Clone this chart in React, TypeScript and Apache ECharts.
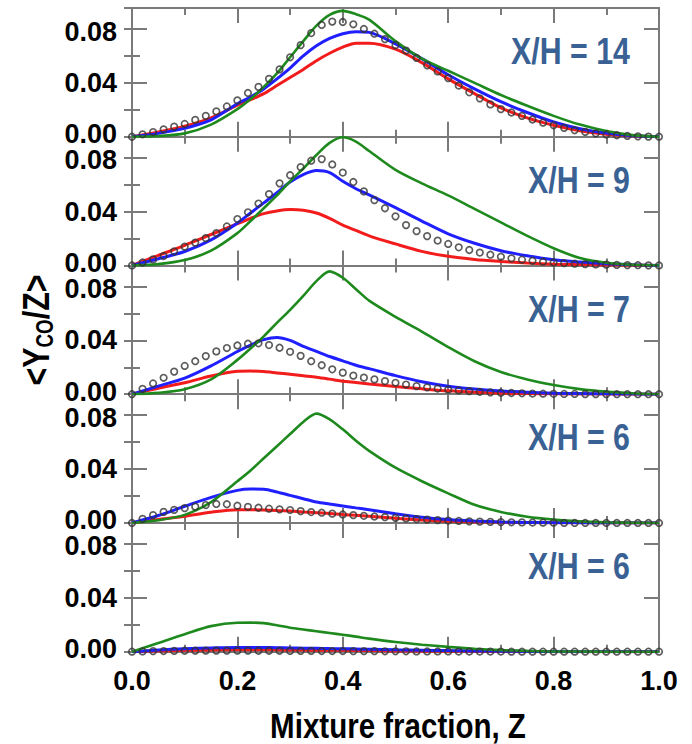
import React, { useEffect, useRef } from "react";
import * as echarts from "echarts";

const FONT = '"Liberation Sans", Arial, Helvetica, sans-serif';
const AX = "#7a7a7a";
const TITLE_COLOR = "#3a6194";
const RED = "#f21c1c";
const BLUE = "#1f1fff";
const GREEN = "#1e8a1e";
const DOT = "#333333";
const NARROW = 0.82;

const YMAX = 0.0956;

// x positions of the model curves
const zLine = [0, 0.05, 0.1, 0.15, 0.2, 0.225, 0.25, 0.275, 0.3, 0.325, 0.35, 0.375, 0.4, 0.425, 0.45, 0.5, 0.55, 0.6, 0.65, 0.7, 0.75, 0.8, 0.85, 0.9, 0.95, 1];
// x positions of the measurement circles
const zDots = [0, 0.02, 0.04, 0.06, 0.08, 0.1, 0.12, 0.14, 0.16, 0.18, 0.2, 0.22, 0.24, 0.26, 0.28, 0.3, 0.32, 0.34, 0.36, 0.38, 0.4, 0.42, 0.44, 0.46, 0.48, 0.5, 0.52, 0.54, 0.56, 0.58, 0.6, 0.62, 0.64, 0.66, 0.68, 0.7, 0.72, 0.74, 0.76, 0.78, 0.8, 0.82, 0.84, 0.86, 0.88, 0.9, 0.92, 0.94, 0.96, 0.98, 1];

const panelLabels = ["X/H = 14", "X/H = 9", "X/H = 7", "X/H = 6", "X/H = 6"];

// X/H = 14
const green14 = [0, 0.0005, 0.0025, 0.009, 0.0205, 0.028, 0.037, 0.047, 0.059, 0.071, 0.0825, 0.0905, 0.0935, 0.091, 0.087, 0.071, 0.058, 0.049, 0.04, 0.031, 0.023, 0.0155, 0.009, 0.0042, 0.0012, 0];
const blue14 = [0, 0.0025, 0.0062, 0.0125, 0.0245, 0.0295, 0.0355, 0.043, 0.051, 0.06, 0.0675, 0.073, 0.0765, 0.078, 0.0775, 0.069, 0.058, 0.046, 0.0355, 0.026, 0.018, 0.011, 0.006, 0.0027, 0.0008, 0];
const red14 = [0, 0.0035, 0.0078, 0.014, 0.0235, 0.0275, 0.032, 0.038, 0.044, 0.05, 0.0565, 0.062, 0.0665, 0.0695, 0.0695, 0.065, 0.055, 0.043, 0.032, 0.0215, 0.014, 0.0085, 0.0045, 0.0018, 0.0005, 0];
const dots14 = [0, 0.0018, 0.0035, 0.0055, 0.0075, 0.0095, 0.0125, 0.0155, 0.0188, 0.0225, 0.027, 0.0325, 0.037, 0.043, 0.05, 0.059, 0.068, 0.077, 0.083, 0.0855, 0.0852, 0.0835, 0.08, 0.0765, 0.0725, 0.068, 0.064, 0.0585, 0.053, 0.0485, 0.0435, 0.038, 0.033, 0.0285, 0.024, 0.0205, 0.018, 0.0155, 0.0128, 0.0105, 0.0085, 0.0066, 0.0048, 0.0036, 0.0025, 0.0017, 0.0011, 0.0006, 0.0003, 0.0001, 0];

// X/H = 9
const green9 = [0, 0.001, 0.004, 0.011, 0.024, 0.033, 0.0425, 0.052, 0.0625, 0.072, 0.082, 0.091, 0.0952, 0.092, 0.085, 0.071, 0.061, 0.052, 0.042, 0.032, 0.022, 0.0128, 0.0055, 0.002, 0.0005, 0];
const blue9 = [0, 0.005, 0.0104, 0.019, 0.0315, 0.039, 0.0465, 0.054, 0.062, 0.0675, 0.0705, 0.069, 0.0625, 0.057, 0.0525, 0.043, 0.033, 0.0235, 0.0165, 0.011, 0.0072, 0.0042, 0.0025, 0.0013, 0.0005, 0];
const red9 = [0, 0.0075, 0.015, 0.023, 0.031, 0.035, 0.0385, 0.0405, 0.0415, 0.041, 0.039, 0.035, 0.03, 0.026, 0.022, 0.016, 0.0105, 0.0068, 0.0045, 0.003, 0.0018, 0.001, 0.0007, 0.0004, 0.0002, 0];
const dots9 = [0, 0.0022, 0.0045, 0.007, 0.0105, 0.014, 0.017, 0.0203, 0.024, 0.029, 0.0345, 0.0395, 0.046, 0.053, 0.061, 0.067, 0.073, 0.0778, 0.079, 0.075, 0.069, 0.062, 0.055, 0.0485, 0.0425, 0.0365, 0.03, 0.0255, 0.0218, 0.0185, 0.016, 0.0135, 0.0115, 0.0096, 0.008, 0.0065, 0.0053, 0.0043, 0.0035, 0.0028, 0.0022, 0.0017, 0.0013, 0.001, 0.0008, 0.0006, 0.0004, 0.0003, 0.0002, 0.0001, 0];

// X/H = 7
const green7 = [0, 0.001, 0.0037, 0.011, 0.0255, 0.034, 0.043, 0.053, 0.0626, 0.073, 0.084, 0.0912, 0.0865, 0.078, 0.0695, 0.0575, 0.0465, 0.035, 0.0245, 0.0165, 0.011, 0.0068, 0.0038, 0.0019, 0.0007, 0];
const blue7 = [0, 0.006, 0.0119, 0.021, 0.0317, 0.0365, 0.0405, 0.0422, 0.04, 0.0355, 0.0318, 0.028, 0.0248, 0.0215, 0.019, 0.0138, 0.0093, 0.006, 0.0038, 0.0024, 0.0015, 0.0008, 0.0005, 0.0003, 0.0001, 0];
const red7 = [0, 0.0045, 0.0085, 0.0135, 0.017, 0.0172, 0.0168, 0.0158, 0.0148, 0.0137, 0.0126, 0.0112, 0.0097, 0.0087, 0.0076, 0.0057, 0.004, 0.0025, 0.0015, 0.0008, 0.0005, 0.0003, 0.0002, 0.0001, 0, 0];
const dots7 = [0, 0.004, 0.008, 0.0122, 0.0168, 0.021, 0.0245, 0.0283, 0.0318, 0.0343, 0.0362, 0.0375, 0.0378, 0.0365, 0.0345, 0.0315, 0.0285, 0.0245, 0.0215, 0.0185, 0.016, 0.0138, 0.0123, 0.011, 0.0097, 0.0085, 0.0072, 0.006, 0.0051, 0.0042, 0.0034, 0.0028, 0.0023, 0.0018, 0.0014, 0.0011, 0.0009, 0.0007, 0.0005, 0.0004, 0.0003, 0.0002, 0.0002, 0.0001, 0.0001, 0, 0, 0, 0, 0, 0];

// X/H = 6 (upper)
const green6a = [0, 0.002, 0.006, 0.0155, 0.031, 0.039, 0.048, 0.057, 0.066, 0.075, 0.0812, 0.077, 0.0695, 0.061, 0.0535, 0.041, 0.031, 0.022, 0.0135, 0.0082, 0.0046, 0.0025, 0.0012, 0.0005, 0.0001, 0];
const blue6a = [0, 0.0055, 0.0124, 0.019, 0.0242, 0.0252, 0.025, 0.023, 0.0205, 0.018, 0.0155, 0.014, 0.0126, 0.0112, 0.0098, 0.0068, 0.0042, 0.0025, 0.0014, 0.0007, 0.0004, 0.0002, 0.0001, 0, 0, 0];
const red6a = [0, 0.0025, 0.005, 0.008, 0.0098, 0.0098, 0.0096, 0.0092, 0.0088, 0.0082, 0.0076, 0.007, 0.0063, 0.0057, 0.005, 0.0035, 0.0022, 0.0013, 0.0008, 0.0005, 0.0003, 0.0002, 0.0001, 0, 0, 0];
const dots6a = [0, 0.003, 0.0058, 0.0082, 0.0097, 0.011, 0.0121, 0.0133, 0.0141, 0.0139, 0.0128, 0.012, 0.0113, 0.0106, 0.0101, 0.0096, 0.0088, 0.0081, 0.0076, 0.0069, 0.0063, 0.0058, 0.0053, 0.0048, 0.0043, 0.0038, 0.0033, 0.0029, 0.0025, 0.0021, 0.0018, 0.0015, 0.0012, 0.001, 0.0008, 0.0006, 0.0005, 0.0004, 0.0003, 0.0002, 0.0002, 0.0001, 0, 0, 0, 0, 0, 0, 0, 0, 0];

// X/H = 6 (lower)
const green6b = [0, 0.0065, 0.013, 0.019, 0.0215, 0.0216, 0.0212, 0.0196, 0.0178, 0.0165, 0.0152, 0.0139, 0.0126, 0.0112, 0.0097, 0.0072, 0.0052, 0.0036, 0.0022, 0.0012, 0.0006, 0.0002, 0.0001, 0, 0, 0];
const blue6b = [0, 0.0012, 0.0022, 0.0028, 0.0032, 0.0032, 0.0031, 0.003, 0.0028, 0.0026, 0.0025, 0.0023, 0.0022, 0.002, 0.0018, 0.0014, 0.0011, 0.0008, 0.0006, 0.0004, 0.0002, 0.0001, 0, 0, 0, 0];
const red6b = [0, 0.0005, 0.001, 0.0013, 0.0015, 0.0015, 0.0015, 0.0014, 0.0013, 0.0012, 0.0011, 0.0011, 0.001, 0.0009, 0.0008, 0.0006, 0.0004, 0.0003, 0.0002, 0.0001, 0, 0, 0, 0, 0, 0];
const dots6b = [0, 0.0002, 0.0004, 0.0005, 0.0006, 0.0007, 0.0007, 0.0008, 0.0008, 0.0008, 0.0008, 0.0008, 0.0007, 0.0007, 0.0007, 0.0006, 0.0006, 0.0006, 0.0005, 0.0005, 0.0005, 0.0004, 0.0004, 0.0004, 0.0003, 0.0003, 0.0003, 0.0002, 0.0002, 0.0002, 0.0002, 0.0001, 0.0001, 0.0001, 0.0001, 0.0001, 0, 0, 0, 0, 0, 0, 0, 0, 0, 0, 0, 0, 0, 0, 0];

const panelData = [
  { dots: dots14, red: red14, blue: blue14, green: green14 },
  { dots: dots9, red: red9, blue: blue9, green: green9 },
  { dots: dots7, red: red7, blue: blue7, green: green7 },
  { dots: dots6a, red: red6a, blue: blue6a, green: green6a },
  { dots: dots6b, red: red6b, blue: blue6b, green: green6b },
];

const PLOT_TOP = 8;
const PANEL_H = 128.74;
const LEFT = 132;
const RIGHT = 33;

function buildOption() {
  const grid: any[] = [];
  const xAxis: any[] = [];
  const yAxis: any[] = [];
  const series: any[] = [];
  const graphic: any[] = [];
  const n = panelData.length;

  const tickStyle = { color: AX, width: 2 };
  const labelFont = {
    fontFamily: FONT,
    fontWeight: "bold",
    fontSize: 27,
    lineHeight: 20,
    color: "#000",
  };

  for (let i = 0; i < n; i++) {
    const top = PLOT_TOP + i * PANEL_H;
    grid.push({ left: LEFT, right: RIGHT, top, height: PANEL_H, containLabel: false });

    const baseX = {
      gridIndex: i,
      type: "value",
      min: 0,
      max: 1,
      interval: 0.2,
      splitLine: { show: false },
      axisLine: { show: true, onZero: false, lineStyle: { color: AX, width: 2 } },
      axisTick: { show: true, inside: true, length: 15, lineStyle: tickStyle },
      minorTick: { show: true, splitNumber: 2, length: 7, lineStyle: tickStyle },
      minorSplitLine: { show: false },
    };
    xAxis.push({
      ...baseX,
      position: "bottom",
      axisLabel:
        i === n - 1
          ? {
              show: true,
              margin: 19,
              ...labelFont,
              formatter: (v: number) => v.toFixed(1),
            }
          : { show: false },
    });
    xAxis.push({ ...baseX, position: "top", axisLabel: { show: false } });

    const baseY = {
      gridIndex: i,
      type: "value",
      min: 0,
      max: YMAX,
      splitLine: { show: false },
    };
    // left major
    yAxis.push({
      ...baseY,
      position: "left",
      interval: 0.04,
      axisLine: { show: true, onZero: false, lineStyle: { color: AX, width: 2 } },
      axisTick: { show: true, inside: true, length: 15, lineStyle: tickStyle },
      axisLabel: {
        show: true,
        margin: 15,
        showMaxLabel: false,
        ...labelFont,
        formatter: (v: number) => {
          const s = v.toFixed(2);
          if (v === 0) return "{lo|" + s + "}";
          if (v > 0.07) return "{hi|" + s + "}";
          return "{mid|" + s + "}";
        },
        rich: {
          lo: { ...labelFont, lineHeight: 18, padding: [0, 0, 5, 0] },
          hi: { ...labelFont, lineHeight: 18, padding: [5, 0, 0, 0] },
          mid: { ...labelFont, lineHeight: 18 },
        },
      },
    });
    // left minor
    yAxis.push({
      ...baseY,
      position: "left",
      interval: 0.02,
      axisLine: { show: false },
      axisTick: { show: true, inside: true, length: 8, lineStyle: tickStyle },
      axisLabel: { show: false },
    });
    // right major
    yAxis.push({
      ...baseY,
      position: "right",
      interval: 0.04,
      axisLine: { show: true, onZero: false, lineStyle: { color: AX, width: 2 } },
      axisTick: { show: true, inside: true, length: 15, lineStyle: tickStyle },
      axisLabel: { show: false },
    });
    // right minor
    yAxis.push({
      ...baseY,
      position: "right",
      interval: 0.02,
      axisLine: { show: false },
      axisTick: { show: true, inside: true, length: 8, lineStyle: tickStyle },
      axisLabel: { show: false },
    });

    const d = panelData[i];
    const xi = 2 * i;
    const yi = 4 * i;
    const lineSeries = (vals: number[], color: string, width: number) => ({
      type: "line",
      xAxisIndex: xi,
      yAxisIndex: yi,
      data: zLine.map((z, k) => [z, vals[k]]),
      showSymbol: false,
      symbol: "none",
      smooth: 0.3,
      lineStyle: { color, width },
      z: 3,
    });
    series.push(lineSeries(d.red, RED, 3));
    series.push(lineSeries(d.blue, BLUE, 3));
    series.push(lineSeries(d.green, GREEN, 2.6));
    series.push({
      type: "scatter",
      xAxisIndex: xi,
      yAxisIndex: yi,
      data: zDots.map((z, k) => [z, d.dots[k]]),
      symbol: "circle",
      symbolSize: 6.5,
      itemStyle: { color: "rgba(255,255,255,0)", borderColor: DOT, borderWidth: 1.7 },
      z: 4,
    });

    graphic.push({
      type: "text",
      x: 630,
      y: top + 43,
      scaleX: NARROW,
      style: {
        text: panelLabels[i],
        font: `bold 37px ${FONT}`,
        fill: TITLE_COLOR,
        align: "right",
        textAlign: "right",
        verticalAlign: "middle",
        textVerticalAlign: "middle",
      },
    });
  }

  graphic.push({
    type: "text",
    x: 398,
    y: 725,
    scaleX: NARROW,
    style: {
      text: "Mixture fraction, Z",
      font: `bold 36px ${FONT}`,
      fill: "#000",
      align: "center",
      textAlign: "center",
      verticalAlign: "middle",
      textVerticalAlign: "middle",
    },
  });

  graphic.push({
    type: "text",
    x: 36,
    y: 330,
    rotation: Math.PI / 2,
    scaleX: NARROW,
    style: {
      text: "{a|<Y}{s|CO}{a|/Z>}",
      fill: "#000",
      align: "center",
      textAlign: "center",
      verticalAlign: "middle",
      textVerticalAlign: "middle",
      rich: {
        a: { fontFamily: FONT, fontWeight: "bold", fontSize: 37, lineHeight: 40, verticalAlign: "middle", fill: "#000" },
        s: { fontFamily: FONT, fontWeight: "bold", fontSize: 23, lineHeight: 20, verticalAlign: "bottom", fill: "#000" },
      },
    },
  });

  return {
    animation: false,
    backgroundColor: "#fff",
    grid,
    xAxis,
    yAxis,
    series,
    graphic,
  };
}

export default function App() {
  const ref = useRef<HTMLDivElement>(null);
  useEffect(() => {
    if (!ref.current) return;
    const chart = echarts.init(ref.current, null, { renderer: "svg" });
    chart.setOption(buildOption() as any);
    return () => chart.dispose();
  }, []);
  return (
    <div
      ref={ref}
      style={{ position: "fixed", left: 0, top: 0, width: 692, height: 744, background: "#fff" }}
    />
  );
}
